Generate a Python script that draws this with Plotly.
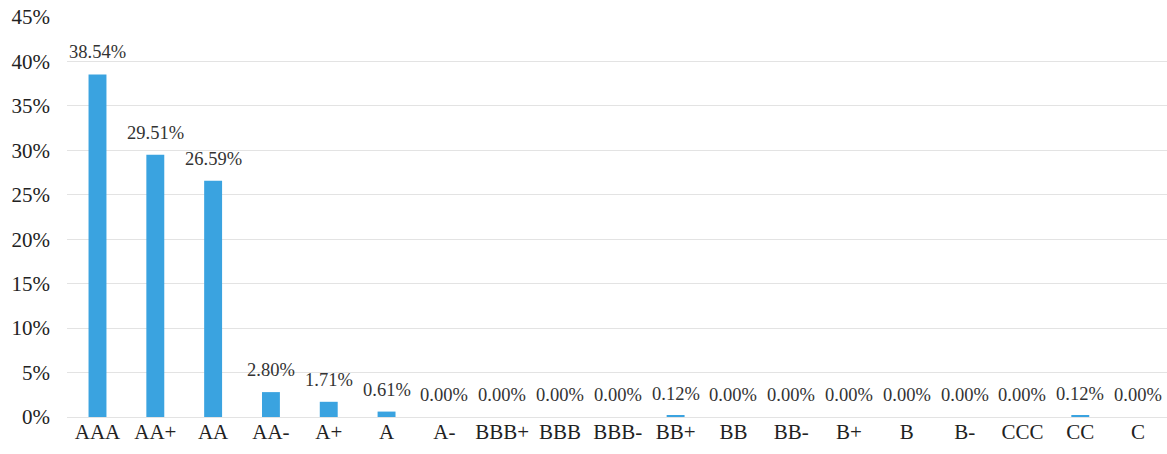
import plotly.graph_objects as go

ratings = ["AAA", "AA+", "AA", "AA-", "A+", "A", "A-", "BBB+", "BBB", "BBB-",
           "BB+", "BB", "BB-", "B+", "B", "B-", "CCC", "CC", "C"]
shares = [38.54, 29.51, 26.59, 2.80, 1.71, 0.61, 0.00, 0.00, 0.00, 0.00,
          0.12, 0.00, 0.00, 0.00, 0.00, 0.00, 0.00, 0.12, 0.00]
y_ticks = [0, 5, 10, 15, 20, 25, 30, 35, 40, 45]

serif = "Liberation Serif"

fig = go.Figure(go.Bar(
    x=ratings,
    y=shares,
    marker=dict(color="#3AA3E0", line=dict(width=0)),
    width=0.31,
))

for r, v in zip(ratings, shares):
    fig.add_annotation(
        x=r, y=v, text=f"{v:.2f}%", showarrow=False,
        yanchor="bottom", yshift=10,
        font=dict(family=serif, size=18.5, color="#333333"),
    )

fig.update_layout(
    width=1167, height=454,
    margin=dict(l=67, r=0, t=17, b=37),
    paper_bgcolor="white", plot_bgcolor="white",
    showlegend=False,
    font=dict(family=serif),
)
fig.update_xaxes(
    showgrid=False, showline=False, ticks="",
    tickfont=dict(family=serif, size=21, color="#222222"),
)
fig.update_yaxes(
    range=[0, 45], tickvals=y_ticks, ticktext=[f"{t}%" for t in y_ticks],
    showgrid=True, gridcolor="#e3e3e3", gridwidth=1,
    zeroline=True, zerolinecolor="#e3e3e3", zerolinewidth=1,
    showline=False, ticks="", ticklabelstandoff=16,
    tickfont=dict(family=serif, size=21, color="#222222"),
)

fig.write_html("out.html")
